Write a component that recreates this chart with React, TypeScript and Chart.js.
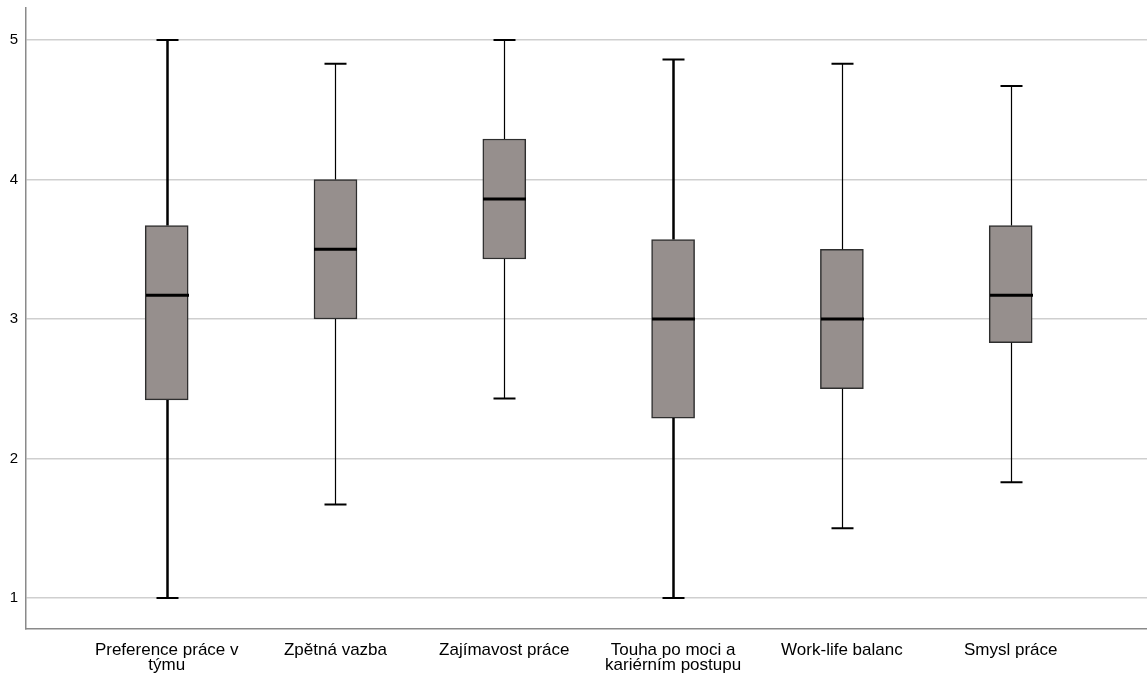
import React, { useEffect, useRef } from "react";
import { Chart, registerables } from "chart.js";

Chart.register(...registerables);

const categories: (string | string[])[] = [
  ["Preference práce v", "týmu"],
  "Zpětná vazba",
  "Zajímavost práce",
  ["Touha po moci a", "kariérním postupu"],
  "Work-life balanc",
  "Smysl práce",
];
const minValues = [1.0, 1.67, 2.43, 1.0, 1.5, 1.83];
const q1Values = [2.42, 3.0, 3.43, 2.29, 2.5, 2.83];
const medianValues = [3.17, 3.5, 3.86, 3.0, 3.0, 3.17];
const q3Values = [3.67, 4.0, 4.29, 3.57, 3.5, 3.67];
const maxValues = [5.0, 4.83, 5.0, 4.86, 4.83, 4.67];
const yTickValues = [1, 2, 3, 4, 5];

const whiskerWidths = [2.5, 1.2, 1.2, 2.5, 1.2, 1.2];

const boxPlugin = {
  id: "boxWhiskers",
  afterDatasetsDraw(chart: any) {
    const { ctx, scales } = chart;
    const xs = scales.x;
    const ys = scales.y;
    const capHalf = 11;
    const boxHalf = 21.5;
    ctx.save();
    for (let i = 0; i < categories.length; i++) {
      const cx = Math.round(xs.getPixelForValue(i + 1)) + 0.5;
      const yMin = ys.getPixelForValue(minValues[i]);
      const yQ1 = ys.getPixelForValue(q1Values[i]);
      const yMed = ys.getPixelForValue(medianValues[i]);
      const yQ3 = ys.getPixelForValue(q3Values[i]);
      const yMax = ys.getPixelForValue(maxValues[i]);
      ctx.strokeStyle = "#000";
      ctx.lineWidth = whiskerWidths[i];
      ctx.beginPath();
      ctx.moveTo(cx, yQ1);
      ctx.lineTo(cx, yMin);
      ctx.moveTo(cx, yQ3);
      ctx.lineTo(cx, yMax);
      ctx.stroke();
      ctx.lineWidth = 2;
      ctx.beginPath();
      ctx.moveTo(cx - capHalf, yMin);
      ctx.lineTo(cx + capHalf, yMin);
      ctx.moveTo(cx - capHalf, yMax);
      ctx.lineTo(cx + capHalf, yMax);
      ctx.stroke();
      ctx.lineWidth = 3;
      ctx.beginPath();
      ctx.moveTo(cx - boxHalf, yMed);
      ctx.lineTo(cx + boxHalf, yMed);
      ctx.stroke();
    }
    ctx.restore();
  },
};

export default function App() {
  const ref = useRef<HTMLCanvasElement | null>(null);
  useEffect(() => {
    if (!ref.current) return;
    const chart = new Chart(ref.current, {
      type: "bar",
      data: {
        datasets: [
          {
            data: categories.map((_, i) => ({ x: i + 1, y: [q1Values[i], q3Values[i]] })) as any,
            backgroundColor: "#968f8d",
            borderColor: "#2e2e2e",
            borderWidth: 1.5,
            borderSkipped: false,
            barThickness: 43,
          },
        ],
      },
      options: {
        responsive: false,
        animation: false,
        layout: { padding: { top: 0, right: 0, left: 0, bottom: 0 } },
        plugins: { legend: { display: false }, tooltip: { enabled: false } },
        scales: {
          x: {
            type: "linear",
            offset: false,
            min: 0.1665,
            max: 6.8075,
            afterBuildTicks: (scale: any) => {
              scale.ticks = categories.map((_, i) => ({ value: i + 1 }));
            },
            afterFit: (scale: any) => {
              scale.height = 46;
              scale.paddingLeft = 0;
              scale.paddingRight = 0;
            },
            ticks: {
              autoSkip: false,
              maxRotation: 0,
              minRotation: 0,
              padding: 14,
              color: "#000",
              font: { family: "'Liberation Sans', Arial, sans-serif", size: 17, lineHeight: 0.87 },
              callback: (v: any) => categories[Math.round(v) - 1] as any,
            },
            grid: { display: false, drawTicks: false },
            border: { display: true, color: "#8a8a8a", width: 1.5 },
          },
          y: {
            min: 0.778,
            max: 5.229,
            afterBuildTicks: (scale: any) => {
              scale.ticks = yTickValues.map((v) => ({ value: v }));
            },
            afterFit: (scale: any) => {
              scale.width = 26;
              scale.paddingTop = 8;
              scale.paddingBottom = 0;
            },
            ticks: {
              padding: 8,
              color: "#000",
              font: { family: "'Liberation Sans', Arial, sans-serif", size: 15 },
              callback: (v: any) => String(v),
            },
            grid: { color: "#cfcfcf", lineWidth: 1.5, drawTicks: false },
            border: { display: true, color: "#8a8a8a", width: 1.5 },
          },
        },
      },
      plugins: [boxPlugin],
    });
    return () => chart.destroy();
  }, []);
  return (
    <div style={{ position: "fixed", left: 0, top: 0, width: 1147, height: 675, background: "#fff" }}>
      <canvas ref={ref} width={1147} height={675} />
    </div>
  );
}
